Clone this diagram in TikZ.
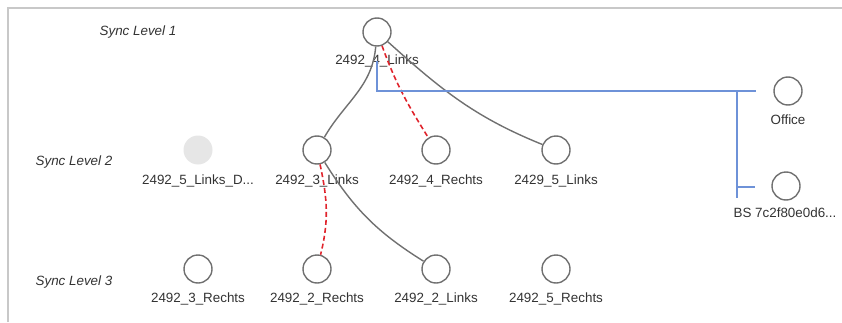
\documentclass[tikz,border=0pt]{standalone}
\usepackage{fontspec}
\setmainfont{Liberation Sans}
\definecolor{circ}{HTML}{707070}
\definecolor{txt}{HTML}{333333}
\definecolor{redd}{HTML}{E0242C}
\definecolor{bluel}{HTML}{6E92D8}
\definecolor{bord}{HTML}{C8C8C8}
\definecolor{ghost}{HTML}{E6E6E6}
\tikzset{
  nd/.style={circle, draw=circ, line width=1.4pt, minimum size=28pt, inner sep=0pt},
  ghostnd/.style={circle, fill=ghost, minimum size=29pt, inner sep=0pt},
  lbl/.style={text=txt, font=\fontsize{13.4}{15}\selectfont, inner sep=0pt},
  lvl/.style={text=txt, font=\fontsize{13.4}{15}\selectfont\itshape, inner sep=0pt},
  gedge/.style={draw=circ, line width=1.4pt},
  redge/.style={draw=redd, line width=1.6pt, dash pattern=on 5pt off 3pt},
  bedge/.style={draw=bluel, line width=1.1pt},
  border/.style={draw=bord, line width=1.8pt}
}
\begin{document}
\begin{tikzpicture}[x=1pt,y=1pt]
\useasboundingbox (0,0) rectangle (842,322);
\draw[border] (8,0) -- (8,314) -- (842,314);

% level labels
\node[lvl] (sl1) at (138,290) {Sync Level 1};
\node[lvl] (sl2) at (74,160) {Sync Level 2};
\node[lvl] (sl3) at (74,40) {Sync Level 3};

% nodes
\node[nd] (n41) at (377,290) {};
\node[lbl] (n41t) at (377,261) {2492\_4\_Links};

\node[ghostnd] (n5d) at (198,172) {};
\node[lbl] (n5dt) at (198,141) {2492\_5\_Links\_D...};
\node[nd] (n3l) at (317,172) {};
\node[lbl] (n3lt) at (317,141) {2492\_3\_Links};
\node[nd] (n4r) at (436,172) {};
\node[lbl] (n4rt) at (436,141) {2492\_4\_Rechts};
\node[nd] (n25l) at (556,172) {};
\node[lbl] (n25lt) at (556,141) {2429\_5\_Links};

\node[nd] (n3r) at (198,53) {};
\node[lbl] (n3rt) at (198,23) {2492\_3\_Rechts};
\node[nd] (n2r) at (317,53) {};
\node[lbl] (n2rt) at (317,23) {2492\_2\_Rechts};
\node[nd] (n2l) at (436,53) {};
\node[lbl] (n2lt) at (436,23) {2492\_2\_Links};
\node[nd] (n5r) at (556,53) {};
\node[lbl] (n5rt) at (556,23) {2492\_5\_Rechts};

\node[nd] (off) at (788,231) {};
\node[lbl] (offt) at (788,202) {Office};
\node[nd] (bs) at (786,136) {};
\node[lbl] (bst) at (785,109) {BS 7c2f80e0d6...};

% gray edges
\draw[gedge] (n41) to[out=-95,in=60] (n3l);
\draw[gedge] (n41) to[out=-42,in=158] (n25l);
\draw[gedge] (n3l) to[out=-58,in=148] (n2l);
% red dashed edges
\draw[redge] (n41) to[out=-70,in=122] (n4r);
\draw[redge] (n3l) to[out=-78,in=76] (n2r);

% blue connector
\coordinate (bj) at (737,231);
\coordinate (oe) at (756,231);
\coordinate (bb) at (737,124);
\coordinate (be) at (755,135);
\draw[bedge] (n41t.center) |- (oe);
\draw[bedge] (bj) -- (bb);
\draw[bedge] (bj |- be) -- (be);
\end{tikzpicture}
\end{document}
